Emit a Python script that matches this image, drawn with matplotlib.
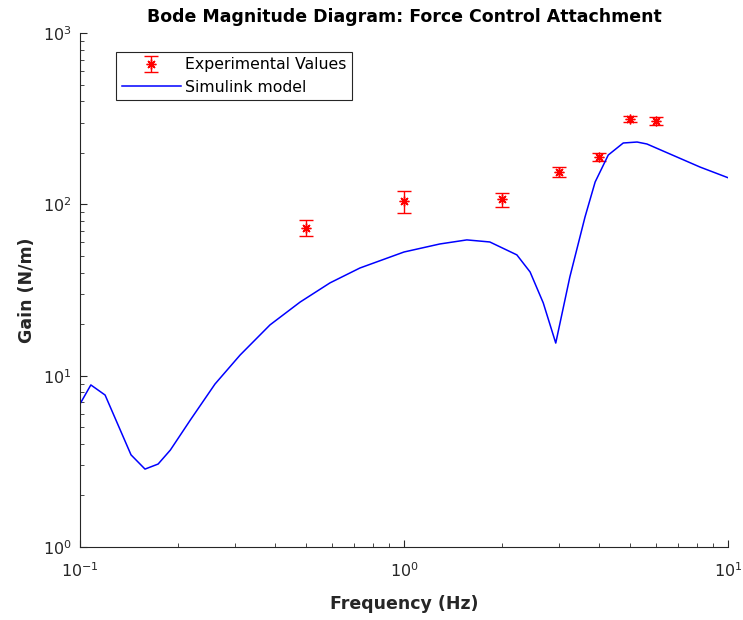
#! /usr/bin/env python3

import numpy as np
import matplotlib
matplotlib.use("Agg")
import matplotlib.pyplot as plt
from matplotlib.ticker import LogLocator, NullFormatter, FuncFormatter

# experimental points
exp_freq = [0.5, 1.0, 2.0, 3.0, 4.0, 5.0, 6.0]
exp_gain = [73, 104, 107, 155, 189, 315, 307]
exp_err = [8, 15, 10, 11, 10, 14, 15]

# simulink model curve
sim_freq = [0.1, 0.108, 0.1195, 0.1437, 0.1587, 0.1742, 0.190, 0.219, 0.261,
            0.312, 0.386, 0.478, 0.591, 0.731, 1.0, 1.29, 1.563, 1.84, 2.23,
            2.45, 2.69, 2.94, 3.25, 3.62, 3.89, 4.27, 4.75, 5.24, 5.62, 8.2, 10.0]
sim_gain = [6.84, 8.83, 7.71, 3.45, 2.85, 3.05, 3.68, 5.51, 8.94,
            13.2, 19.8, 26.9, 34.8, 42.5, 52.7, 58.7, 62.0, 60.3, 50.7,
            40.3, 26.6, 15.5, 37.7, 84.4, 135, 194, 228, 231, 225, 165, 143]

plt.rcParams['font.family'] = ['DejaVu Sans']
plt.rcParams['axes.unicode_minus'] = False

fig = plt.figure(figsize=(7.43, 6.2), dpi=100)
ax = fig.add_axes([0.1077, 0.1177, 0.8721, 0.8291])

eb = ax.errorbar(exp_freq, exp_gain, yerr=exp_err, fmt='none', ecolor='red',
                 capsize=5, elinewidth=1.0, capthick=1.0)
mk, = ax.plot(exp_freq, exp_gain, linestyle='none', marker=(8, 2, 0),
              markersize=7, markeredgewidth=1.0, color='red')
line, = ax.plot(sim_freq, sim_gain, color='#0000ff', linewidth=1.1)

ax.set_xscale('log')
ax.set_yscale('log')
ax.set_xlim(0.1, 10)
ax.set_ylim(1, 1000)

def pow10(v, pos):
    return r'$\mathregular{10^{%d}}$' % int(round(np.log10(v)))

for axis in (ax.xaxis, ax.yaxis):
    axis.set_major_locator(LogLocator(base=10))
    axis.set_major_formatter(FuncFormatter(pow10))
    axis.set_minor_locator(LogLocator(base=10, subs=np.arange(2, 10)))
    axis.set_minor_formatter(NullFormatter())

ax.spines['top'].set_visible(False)
ax.spines['right'].set_visible(False)
for sp in ax.spines.values():
    sp.set_color('#262626')
    sp.set_linewidth(0.8)

ax.tick_params(which='both', direction='in', top=False, right=False,
               labelsize=11.5, color='#262626', labelcolor='#262626')
ax.tick_params(which='major', length=5)
ax.tick_params(which='minor', length=3)
ax.tick_params(axis='x', which='major', pad=10)
ax.tick_params(axis='y', which='major', pad=6)

ax.set_title('Bode Magnitude Diagram: Force Control Attachment',
             fontsize=12.5, fontweight='bold', pad=8)
ax.set_xlabel('Frequency (Hz)', fontsize=12.5, fontweight='bold',
              color='#262626', labelpad=11)
ax.set_ylabel('Gain (N/m)', fontsize=12.5, fontweight='bold',
              color='#262626', labelpad=5)

leg = ax.legend([(eb, mk), line], ['Experimental Values', 'Simulink model'],
                loc='upper left', bbox_to_anchor=(0.056, 0.963), fontsize=11.3,
                fancybox=False, edgecolor='#262626', framealpha=1,
                borderpad=0.35, labelspacing=0.45, handlelength=3.75,
                handletextpad=0.3, borderaxespad=0)
leg.get_frame().set_linewidth(0.8)

fig.savefig('out.png', dpi=100)
